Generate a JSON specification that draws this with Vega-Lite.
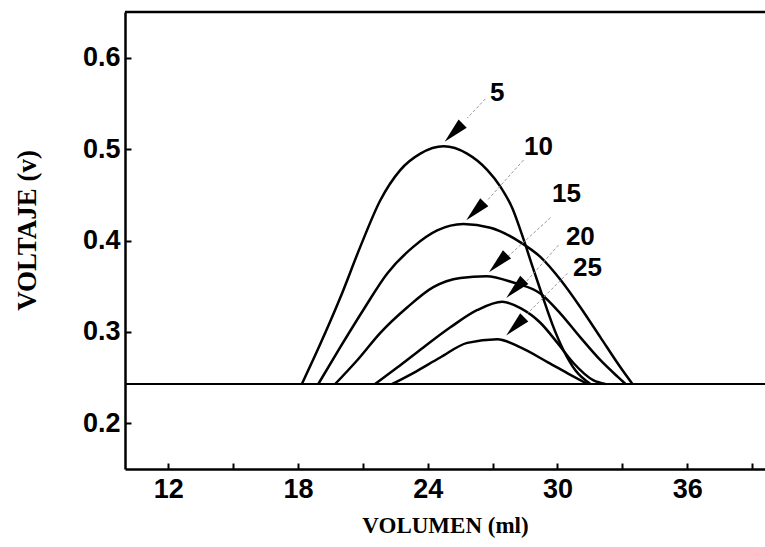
{
  "$schema": "https://vega.github.io/schema/vega-lite/v6.json",
  "width": 640,
  "height": 457,
  "autosize": {"type": "none"},
  "padding": {"left": 125, "top": 12, "right": 0, "bottom": 78},
  "background": "white",
  "config": {
    "view": {"stroke": null},
    "axis": {
      "domainColor": "black",
      "domainWidth": 2.5,
      "tickColor": "black",
      "tickWidth": 2,
      "grid": false,
      "labelColor": "black",
      "titleColor": "black"
    }
  },
  "datasets": {
    "curves": [
      {"series": "5", "x": 18.18, "y": 0.243},
      {"series": "5", "x": 19.0, "y": 0.285},
      {"series": "5", "x": 19.95, "y": 0.337},
      {"series": "5", "x": 20.88, "y": 0.393},
      {"series": "5", "x": 21.81, "y": 0.444},
      {"series": "5", "x": 22.73, "y": 0.477},
      {"series": "5", "x": 23.66, "y": 0.495},
      {"series": "5", "x": 24.74, "y": 0.503},
      {"series": "5", "x": 25.82, "y": 0.495},
      {"series": "5", "x": 26.76, "y": 0.477},
      {"series": "5", "x": 27.36, "y": 0.459},
      {"series": "5", "x": 27.92, "y": 0.435},
      {"series": "5", "x": 28.38, "y": 0.405},
      {"series": "5", "x": 28.84, "y": 0.372},
      {"series": "5", "x": 29.31, "y": 0.339},
      {"series": "5", "x": 29.77, "y": 0.308},
      {"series": "5", "x": 30.28, "y": 0.28},
      {"series": "5", "x": 30.83, "y": 0.258},
      {"series": "5", "x": 31.53, "y": 0.243},
      {"series": "10", "x": 18.94, "y": 0.243},
      {"series": "10", "x": 19.95, "y": 0.283},
      {"series": "10", "x": 21.02, "y": 0.324},
      {"series": "10", "x": 22.13, "y": 0.364},
      {"series": "10", "x": 23.33, "y": 0.393},
      {"series": "10", "x": 24.44, "y": 0.411},
      {"series": "10", "x": 25.65, "y": 0.418},
      {"series": "10", "x": 26.9, "y": 0.414},
      {"series": "10", "x": 28.29, "y": 0.398},
      {"series": "10", "x": 29.21, "y": 0.382},
      {"series": "10", "x": 30.14, "y": 0.357},
      {"series": "10", "x": 31.06, "y": 0.327},
      {"series": "10", "x": 31.99, "y": 0.294},
      {"series": "10", "x": 32.92, "y": 0.261},
      {"series": "10", "x": 33.47, "y": 0.243},
      {"series": "15", "x": 19.72, "y": 0.243},
      {"series": "15", "x": 20.74, "y": 0.269},
      {"series": "15", "x": 21.81, "y": 0.299},
      {"series": "15", "x": 23.06, "y": 0.327},
      {"series": "15", "x": 24.26, "y": 0.349},
      {"series": "15", "x": 25.51, "y": 0.359},
      {"series": "15", "x": 26.71, "y": 0.361},
      {"series": "15", "x": 27.96, "y": 0.354},
      {"series": "15", "x": 29.21, "y": 0.342},
      {"series": "15", "x": 30.14, "y": 0.32},
      {"series": "15", "x": 31.06, "y": 0.294},
      {"series": "15", "x": 31.99, "y": 0.269},
      {"series": "15", "x": 32.78, "y": 0.251},
      {"series": "15", "x": 33.15, "y": 0.243},
      {"series": "20", "x": 21.57, "y": 0.243},
      {"series": "20", "x": 22.59, "y": 0.261},
      {"series": "20", "x": 23.8, "y": 0.283},
      {"series": "20", "x": 25.05, "y": 0.305},
      {"series": "20", "x": 26.3, "y": 0.324},
      {"series": "20", "x": 27.45, "y": 0.333},
      {"series": "20", "x": 28.29, "y": 0.326},
      {"series": "20", "x": 29.21, "y": 0.31},
      {"series": "20", "x": 30.0, "y": 0.288},
      {"series": "20", "x": 30.74, "y": 0.266},
      {"series": "20", "x": 31.67, "y": 0.247},
      {"series": "20", "x": 32.22, "y": 0.243},
      {"series": "25", "x": 22.36, "y": 0.243},
      {"series": "25", "x": 23.33, "y": 0.255},
      {"series": "25", "x": 24.58, "y": 0.272},
      {"series": "25", "x": 25.83, "y": 0.288},
      {"series": "25", "x": 27.22, "y": 0.292},
      {"series": "25", "x": 28.29, "y": 0.283},
      {"series": "25", "x": 29.54, "y": 0.267},
      {"series": "25", "x": 30.6, "y": 0.253},
      {"series": "25", "x": 31.39, "y": 0.243}
    ],
    "arrows": [
      {"series": "5", "x": 25.2, "y": 0.518},
      {"series": "10", "x": 26.2, "y": 0.432},
      {"series": "15", "x": 27.25, "y": 0.375},
      {"series": "20", "x": 28.05, "y": 0.347},
      {"series": "25", "x": 28.05, "y": 0.306}
    ],
    "leaders": [
      {"series": "5", "x": 26.67, "y": 0.555, "x2": 25.83, "y2": 0.534},
      {"series": "10", "x": 28.43, "y": 0.488, "x2": 26.76, "y2": 0.444},
      {"series": "15", "x": 29.68, "y": 0.425, "x2": 27.69, "y2": 0.382},
      {"series": "20", "x": 30.05, "y": 0.395, "x2": 28.52, "y2": 0.354},
      {"series": "25", "x": 30.46, "y": 0.364, "x2": 28.61, "y2": 0.32}
    ],
    "labels": [
      {"label": "5", "x": 27.22, "y": 0.561},
      {"label": "10", "x": 29.12, "y": 0.502},
      {"label": "15", "x": 30.42, "y": 0.451},
      {"label": "20", "x": 31.06, "y": 0.404},
      {"label": "25", "x": 31.39, "y": 0.37}
    ],
    "baseline": [{"y": 0.243}]
  },
  "layer": [
    {
      "data": {"name": "curves"},
      "mark": {"type": "line", "interpolate": "monotone", "color": "black", "strokeWidth": 2.5},
      "encoding": {
        "x": {
          "field": "x", "type": "quantitative",
          "scale": {"domain": [10, 39.6], "nice": false, "zero": false},
          "axis": {
            "values": [12, 15, 18, 21, 24, 27, 30, 33, 36, 39],
            "labelExpr": "datum.value % 6 == 0 ? datum.label : ''",
            "tickSize": -6,
            "labelPadding": 13,
            "labelFont": "Liberation Sans",
            "labelFontWeight": "bold",
            "labelFontSize": 27,
            "title": "VOLUMEN (ml)",
            "titleFont": "Liberation Serif",
            "titleFontWeight": "bold",
            "titleFontSize": 23,
            "titleY": 56,
            "titleBaseline": "middle"
          }
        },
        "y": {
          "field": "y", "type": "quantitative",
          "scale": {"domain": [0.15, 0.65], "nice": false, "zero": false},
          "axis": {
            "values": [0.2, 0.3, 0.4, 0.5, 0.6],
            "format": ".1f",
            "tickSize": -6,
            "labelPadding": 11,
            "labelFont": "Liberation Sans",
            "labelFontWeight": "bold",
            "labelFontSize": 27,
            "title": "VOLTAJE (v)",
            "titleFont": "Liberation Serif",
            "titleFontWeight": "bold",
            "titleFontSize": 27,
            "titleX": -98,
            "titleY": 218,
            "titleBaseline": "middle"
          }
        },
        "detail": {"field": "series"}
      }
    },
    {
      "data": {"name": "baseline"},
      "mark": {"type": "rule", "color": "black", "strokeWidth": 2},
      "encoding": {"y": {"field": "y", "type": "quantitative"}}
    },
    {
      "data": {"values": [{}]},
      "mark": {"type": "rule", "color": "black", "strokeWidth": 2.5},
      "encoding": {"y": {"datum": 0.65}}
    },
    {
      "data": {"name": "leaders"},
      "mark": {"type": "rule", "color": "#999999", "strokeWidth": 1, "strokeDash": [3, 2]},
      "encoding": {
        "x": {"field": "x", "type": "quantitative"},
        "y": {"field": "y", "type": "quantitative"},
        "x2": {"field": "x2"},
        "y2": {"field": "y2"}
      }
    },
    {
      "data": {"name": "arrows"},
      "mark": {"type": "point", "shape": "M0,-1L0.45,1L-0.45,1Z", "filled": true, "color": "black", "opacity": 1, "size": 650, "angle": 225, "strokeWidth": 0},
      "encoding": {
        "x": {"field": "x", "type": "quantitative"},
        "y": {"field": "y", "type": "quantitative"}
      }
    },
    {
      "data": {"name": "labels"},
      "mark": {"type": "text", "font": "Liberation Sans", "fontWeight": "bold", "fontSize": 26, "color": "black", "align": "center", "baseline": "middle"},
      "encoding": {
        "x": {"field": "x", "type": "quantitative"},
        "y": {"field": "y", "type": "quantitative"},
        "text": {"field": "label"}
      }
    }
  ]
}
